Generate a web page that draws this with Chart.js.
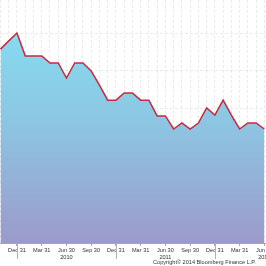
<!DOCTYPE html>
<html><head><meta charset="utf-8">
<script src="https://cdn.jsdelivr.net/npm/chart.js@4/dist/chart.umd.min.js"></script>
<style>
html,body{margin:0;padding:0;background:#fff;overflow:hidden;}
#wrap{position:relative;width:266px;height:266px;}
#copy{position:absolute;left:153px;top:259px;font:5.6px "Liberation Sans",sans-serif;color:#333;white-space:nowrap;}
</style></head>
<body>
<div id="wrap"><canvas id="c" width="266" height="266"></canvas><div id="copy">Copyright© 2014 Bloomberg Finance L.P.</div></div>
<script>
const months = ['2009-10','2009-11','2009-12','2010-01','2010-02','2010-03','2010-04','2010-05','2010-06','2010-07','2010-08','2010-09','2010-10','2010-11','2010-12','2011-01','2011-02','2011-03','2011-04','2011-05','2011-06','2011-07','2011-08','2011-09','2011-10','2011-11','2011-12','2012-01','2012-02','2012-03','2012-04','2012-05','2012-06'];
const values = [5.57,5.79,6.0,5.39,5.39,5.39,5.2,5.2,4.8,5.2,5.2,4.99,4.61,4.21,4.21,4.4,4.4,4.21,4.21,3.79,3.79,3.44,3.6,3.44,3.6,4.0,3.81,4.21,3.81,3.44,3.6,3.6,3.44];
const tickIndex = [2,5,8,11,14,17,20,23,26,29,32];
const tickText = ['Dec 31','Mar 31','Jun 30','Sep 30','Dec 31','Mar 31','Jun 30','Sep 30','Dec 31','Mar 31','Jun 30'];
const yearIndex = [8,20,32];
const yearText = ['2010','2011','2012'];
const yearEndIndex = [2,14,26];

const pts = values.map((v,i)=>({x:i,y:v}));

const longTicks = {
  id:'longTicks',
  afterDraw(chart){
    const ctx=chart.ctx, xs=chart.scales.x, area=chart.chartArea;
    ctx.save();
    ctx.strokeStyle='#b0b0b0';ctx.lineWidth=1;
    yearEndIndex.forEach(i=>{
      const px=Math.round(xs.getPixelForValue(i))+0.5;
      ctx.beginPath();ctx.moveTo(px,area.bottom);ctx.lineTo(px,area.bottom+16);ctx.stroke();
    });
    ctx.restore();
  }
};

new Chart(document.getElementById('c'),{
  type:'line',
  data:{datasets:[{
    data:pts,
    borderColor:'#c8283c',
    borderWidth:1.5,
    pointRadius:0,
    tension:0,
    fill:'start',
    backgroundColor(ctx){
      const a=ctx.chart.chartArea;
      if(!a) return '#8ad';
      const g=ctx.chart.ctx.createLinearGradient(0,a.top,0,a.bottom);
      g.addColorStop(0,'#84e2f4');
      g.addColorStop(0.5,'#8cc6e2');
      g.addColorStop(1,'#9c9acb');
      return g;
    }
  }]},
  options:{
    responsive:false,animation:false,
    layout:{padding:{left:0,right:0,top:0,bottom:0}},
    plugins:{legend:{display:false},tooltip:{enabled:false}},
    scales:{
      x:{
        type:'linear',min:-0.06,max:32.2,z:1,
        afterBuildTicks(s){s.ticks=months.map((m,i)=>({value:i}));},
        afterFit(s){s.paddingLeft=0;s.paddingRight=0;s.height=23;},
        border:{display:true,color:'#a8a8a8',dash:[3,2]},
        grid:{color:'rgba(110,110,130,0.14)',tickLength:3,
          tickColor(c){return tickIndex.includes(c.tick&&c.tick.value)?'#a8a8a8':'rgba(0,0,0,0)';}},
        ticks:{autoSkip:false,maxRotation:0,padding:1,color:'#333',
          font:{family:'Liberation Sans',size:5.6,lineHeight:1.25},
          callback(v){const k=tickIndex.indexOf(v);if(k<0)return '';const y=yearIndex.indexOf(v);return y<0?[tickText[k],'']:[tickText[k],yearText[y]];}}
      },
      y:{
        min:0.4,max:6.88,z:1,
        afterBuildTicks(s){s.ticks=[1,2,3,4,5,6].map(v=>({value:v}));},
        afterFit(s){s.width=0;},
        border:{display:false,dash:[3,2]},
        grid:{color:'rgba(110,110,130,0.14)',drawTicks:false},
        ticks:{display:false}
      }
    }
  },
  plugins:[longTicks]
});
</script>
</body></html>
